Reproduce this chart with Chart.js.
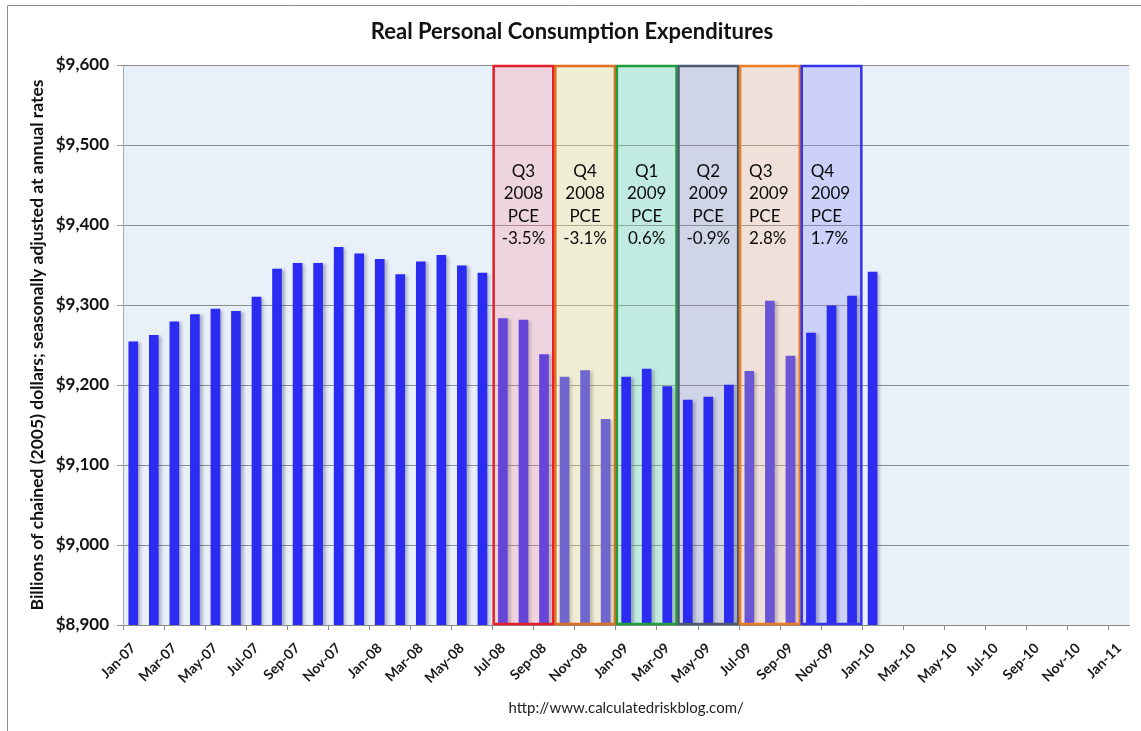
<!DOCTYPE html>
<html>
<head>
<meta charset="utf-8">
<script src="https://cdn.jsdelivr.net/npm/chart.js@4.4.0/dist/chart.umd.min.js"></script>
<style>
html,body{margin:0;padding:0;background:#fff;}
#wrap{position:relative;width:1141px;height:731px;}
</style>
</head>
<body>
<div id="wrap"><canvas id="c" width="1141" height="731"></canvas></div>
<script>
// ---- Data ----
const monthLabels = [
  'Jan-07','Feb-07','Mar-07','Apr-07','May-07','Jun-07','Jul-07','Aug-07','Sep-07','Oct-07','Nov-07','Dec-07',
  'Jan-08','Feb-08','Mar-08','Apr-08','May-08','Jun-08','Jul-08','Aug-08','Sep-08','Oct-08','Nov-08','Dec-08',
  'Jan-09','Feb-09','Mar-09','Apr-09','May-09','Jun-09','Jul-09','Aug-09','Sep-09','Oct-09','Nov-09','Dec-09',
  'Jan-10','Feb-10','Mar-10','Apr-10','May-10','Jun-10','Jul-10','Aug-10','Sep-10','Oct-10','Nov-10','Dec-10',
  'Jan-11'
];
const pceValues = [
  9254, 9262, 9279, 9288, 9295, 9292, 9310, 9345, 9352, 9352, 9372, 9364,
  9357, 9338, 9354, 9362, 9349, 9340, 9283, 9281, 9238, 9210, 9218, 9157,
  9210, 9220, 9198, 9181, 9185, 9200, 9217, 9305, 9236, 9265, 9299, 9311,
  9341
];
const yMin = 8900;
const yMax = 9600;
const yStep = 100;

const quarterNames = ['Q3', 'Q4', 'Q1', 'Q2', 'Q3', 'Q4'];
const quarterYears = ['2008', '2008', '2009', '2009', '2009', '2009'];
const quarterPCE   = ['-3.5%', '-3.1%', '0.6%', '-0.9%', '2.8%', '1.7%'];
const quarterStart = ['Jul-08', 'Oct-08', 'Jan-09', 'Apr-09', 'Jul-09', 'Oct-09'];

// ---- Styles ----
const boxBorders = ['#e3202a', '#e06e1e', '#1f9e3e', '#4c5a6e', '#ee7d22', '#3434ea'];
const boxFills = [
  'rgba(255,140,150,0.28)',
  'rgba(255,230,130,0.32)',
  'rgba(120,225,175,0.35)',
  'rgba(150,150,185,0.30)',
  'rgba(255,190,145,0.30)',
  'rgba(140,140,250,0.30)'
];
const boxOnTop = [true, true, false, false, true, false];
const boxAlign = ['center', 'center', 'center', 'center', 'left', 'left'];

const FONT = 'Lato, "Open Sans", "DejaVu Sans", sans-serif';

function boxRect(chart, q) {
  const x = chart.scales.x, y = chart.scales.y;
  const i = monthLabels.indexOf(quarterStart[q]);
  const half = (x.getPixelForValue(1) - x.getPixelForValue(0)) / 2;
  const left = x.getPixelForValue(i) - half;
  const right = x.getPixelForValue(i + 3) - half;
  return {left, right, top: y.getPixelForValue(yMax), bottom: y.getPixelForValue(yMin)};
}

function drawBoxFill(ctx, chart, q) {
  const r = boxRect(chart, q);
  ctx.fillStyle = boxFills[q];
  ctx.fillRect(r.left, r.top, r.right - r.left, r.bottom - r.top);
}

const decoPlugin = {
  id: 'deco',
  beforeDraw(chart) {
    const ctx = chart.ctx;
    ctx.save();
    ctx.fillStyle = '#ffffff';
    ctx.fillRect(0, 0, chart.width, chart.height);
    ctx.strokeStyle = '#8a8a8a';
    ctx.lineWidth = 1;
    ctx.beginPath();
    ctx.moveTo(7.5, chart.height);
    ctx.lineTo(7.5, 5.5);
    ctx.lineTo(chart.width, 5.5);
    ctx.stroke();
    const a = chart.chartArea;
    ctx.fillStyle = 'rgb(232,240,250)';
    ctx.fillRect(a.left, a.top, a.right - a.left, a.bottom - a.top);
    ctx.restore();
  },
  beforeDatasetsDraw(chart) {
    const ctx = chart.ctx;
    ctx.save();
    for (let q = 0; q < quarterStart.length; q++) {
      if (!boxOnTop[q]) drawBoxFill(ctx, chart, q);
    }
    ctx.restore();
    ctx.save();
    ctx.shadowColor = 'rgba(60,60,90,0.35)';
    ctx.shadowOffsetX = 3;
    ctx.shadowOffsetY = 1;
    ctx.shadowBlur = 3;
  },
  afterDatasetsDraw(chart) {
    const ctx = chart.ctx;
    ctx.restore();
    ctx.save();
    for (let q = 0; q < quarterStart.length; q++) {
      if (boxOnTop[q]) drawBoxFill(ctx, chart, q);
    }
    const a = chart.chartArea;
    for (let q = 0; q < quarterStart.length; q++) {
      const r = boxRect(chart, q);
      ctx.strokeStyle = boxBorders[q];
      ctx.lineWidth = 2.5;
      ctx.strokeRect(r.left + 1, r.top + 1, r.right - r.left - 2, r.bottom - r.top - 2);
      const lines = [quarterNames[q], quarterYears[q], 'PCE', quarterPCE[q]];
      ctx.fillStyle = '#0a0a0a';
      ctx.font = '17px ' + FONT;
      ctx.textBaseline = 'middle';
      let tx;
      if (boxAlign[q] === 'center') {
        ctx.textAlign = 'center';
        tx = (r.left + r.right) / 2;
      } else {
        ctx.textAlign = 'left';
        tx = r.left + 10;
      }
      const y0 = a.top + (a.bottom - a.top) * 0.19;
      lines.forEach((t, k) => ctx.fillText(t, tx, y0 + k * 22.5));
    }
    ctx.restore();
  }
};

new Chart(document.getElementById('c'), {
  type: 'bar',
  data: {
    labels: monthLabels,
    datasets: [{
      data: pceValues,
      backgroundColor: '#2b2bf2',
      borderWidth: 0,
      barThickness: 9
    }]
  },
  options: {
    responsive: false,
    animation: false,
    layout: {padding: {left: 12, right: 9, top: 0, bottom: 8}},
    plugins: {
      legend: {display: false},
      tooltip: {enabled: false},
      title: {
        display: true,
        text: 'Real Personal Consumption Expenditures',
        color: '#111',
        font: {family: FONT, size: 22, weight: 'bold', lineHeight: 1.2},
        padding: {top: 19, bottom: 19.6}
      },
      subtitle: {
        display: true,
        position: 'bottom',
        fullSize: false,
        text: 'http://www.calculatedriskblog.com/',
        color: '#222',
        font: {family: FONT, size: 15, weight: 'normal', lineHeight: 1.2},
        padding: {top: 4, bottom: 6}
      }
    },
    scales: {
      x: {
        type: 'category',
        offset: true,
        grid: {
          offset: true,
          drawOnChartArea: false,
          drawTicks: true,
          tickLength: 5,
          color: (c) => (c.index % 2 === 0 ? '#8a8a8a' : 'rgba(0,0,0,0)')
        },
        border: {display: true, color: '#8a8a8a'},
        ticks: {
          autoSkip: false,
          maxRotation: 45,
          minRotation: 45,
          padding: 10,
          color: '#1a1a1a',
          font: {family: FONT, size: 14, weight: 'bold'},
          callback: (v, i) => (i % 2 === 0 ? monthLabels[i] : '')
        },
        afterFit: (s) => { s.height = 70; }
      },
      y: {
        min: yMin,
        max: yMax,
        grid: {color: '#8c8c8c', drawTicks: true, tickLength: 6},
        border: {display: true, color: '#a8a8a8'},
        ticks: {
          stepSize: yStep,
          padding: 8,
          color: '#111',
          font: {family: FONT, size: 17, weight: 'bold'},
          callback: (v) => '$' + v.toLocaleString('en-US')
        },
        title: {
          display: true,
          text: 'Billions of chained (2005) dollars; seasonally adjusted at annual rates',
          color: '#111',
          font: {family: FONT, size: 17.5, weight: 'bold'},
          padding: {top: 14.5, bottom: 0}
        },
        afterFit: (s) => { s.width = 111; }
      }
    }
  },
  plugins: [decoPlugin]
});
</script>
</body>
</html>
